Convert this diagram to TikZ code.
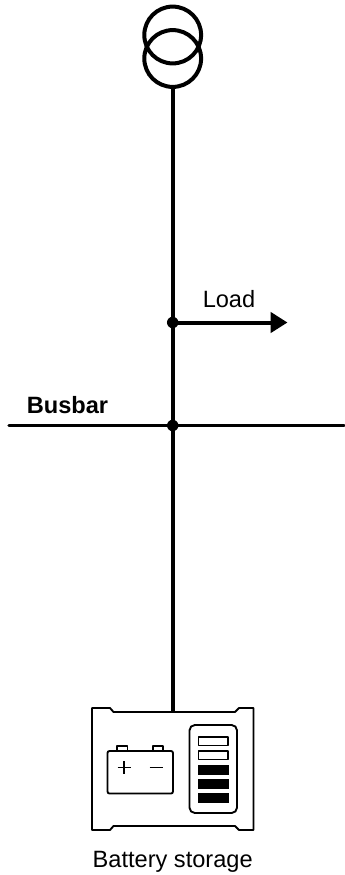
\documentclass[tikz,border=0pt]{standalone}
\usepackage{fontspec}
\setmainfont{Liberation Sans}
\usetikzlibrary{arrows.meta}
\tikzset{
  wire/.style={line width=3pt},
  outline/.style={line width=1.4pt,line join=round},
  junction/.style={circle,fill=black,inner sep=0pt,outer sep=0pt,minimum size=8.6pt},
  winding/.style={circle,draw,line width=3pt,inner sep=0pt,outer sep=0pt,minimum size=42.6pt},
  label/.style={inner sep=0pt,font=\fontsize{17.7pt}{20pt}\selectfont},
}
\begin{document}
\begin{tikzpicture}[x=0.75pt,y=-0.75pt]
  \useasboundingbox (0,0) rectangle (344,875);

  % transformer
  \node[winding] (upper) at (172.7,35) {};
  \node[winding] (lower) at (172.7,58.5) {};

  % junctions and free ends
  \node[junction] (loadtap) at (172.7,322.5) {};
  \node[junction] (bustap) at (172.7,425.5) {};
  \coordinate (loadend) at (287.5,322.5);
  \coordinate (busleft) at (9,425.5);
  \coordinate (busright) at (344,425.5);
  \coordinate (battery) at (172.7,712);

  \draw[wire] (lower.south) -- (loadtap);
  \draw[wire] (loadtap) -- (bustap);
  \draw[wire] (bustap) -- (battery);
  \draw[wire,-{Triangle[length=12.6pt,width=15pt]}] (loadtap) -- (loadend);
  \draw[wire,line width=2.6pt,line cap=round] (busleft) -- (busright);

  \node[label] (loadlabel) at (229,299.5) {Load};
  \node[label,font=\fontsize{17.7pt}{20pt}\selectfont\bfseries] (buslabel) at (67.5,405.5) {Busbar};
  \node[label] (batterylabel) at (172.7,862) {Battery storage};

  % battery storage
  \draw[outline] (92,708) -- (110,708) -- (113.5,712) -- (235,712) -- (239,708) -- (253.5,708)
    -- (253.5,830) -- (239,830) -- (235,826) -- (113.5,826) -- (110,830) -- (92,830) -- cycle;
  \draw[outline,rounded corners=1.5pt] (107.5,751) rectangle (173,793.5);
  \draw[outline] (117,751) |- (127.5,746) -- (127.5,751);
  \draw[outline] (153,751) |- (163,746) -- (163,751);
  \draw[outline] (117.5,767.5) -- (130.5,767.5) (124,761) -- (124,774);
  \draw[outline] (149.5,767.5) -- (162.5,767.5);
  \draw[outline,rounded corners=4pt] (189.5,725) rectangle (237,813);
  \foreach \top in {737,751} {
    \draw[outline] (198.5,\top) rectangle (228,\top+8.5);
  }
  \foreach \top in {764.5,778.8,793} {
    \fill (198,\top) rectangle (228.5,\top+10.3);
  }
\end{tikzpicture}
\end{document}
